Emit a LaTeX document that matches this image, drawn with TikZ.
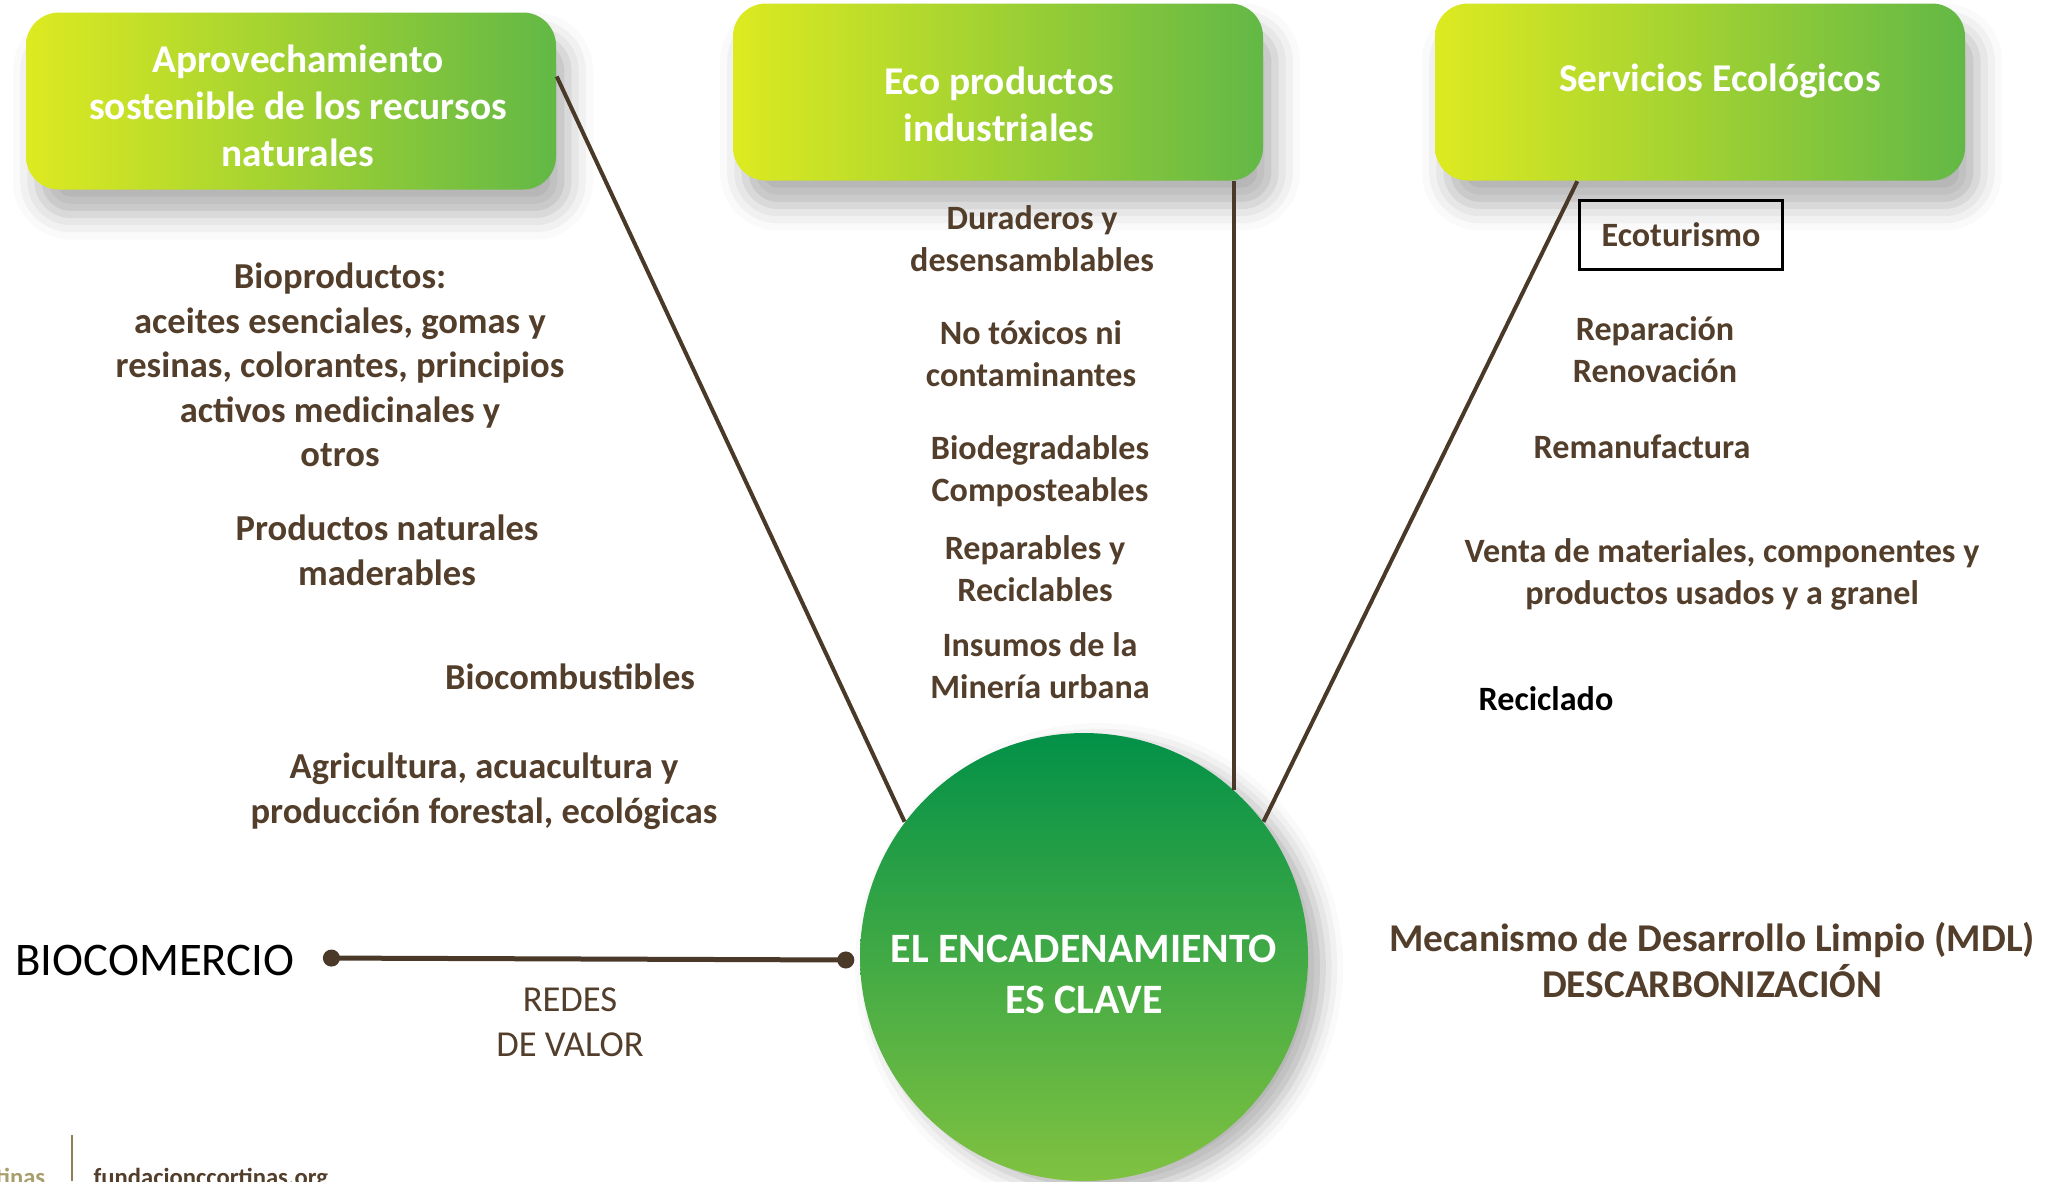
\documentclass[tikz,border=0pt]{standalone}
\usepackage{fontspec}
\setmainfont{Carlito}
\usepackage{xcolor}
\usetikzlibrary{positioning}
\usetikzlibrary{arrows.meta, shadows.blur}
\definecolor{lima}{RGB}{221,234,32}
\definecolor{verde}{RGB}{98,184,70}
\definecolor{oscuro}{RGB}{2,145,72}
\definecolor{claro}{RGB}{128,194,65}
\definecolor{cafe}{RGB}{82,62,43}
\definecolor{linea}{RGB}{74,57,41}
\definecolor{oliva}{RGB}{168,158,108}

\begin{document}
\begin{tikzpicture}[x=0.1mm, y=-0.1mm,
  box/.style = {rounded corners=3.3mm, minimum width=53mm, minimum height=17.7mm,
    left color=lima, right color=verde,
    blur shadow={shadow xshift=1.2mm, shadow yshift=-2.5mm, shadow blur radius=2.5mm, shadow opacity=30}},
  boxtext/.style = {text=white, align=center, font=\bfseries\fontsize{11.2}{13.4}\selectfont},
  hub/.style = {circle, minimum size=44.8mm, top color=oscuro, bottom color=claro,
    blur shadow={shadow xshift=1.5mm, shadow yshift=-1mm, shadow blur radius=2mm, shadow opacity=30}},
  item/.style = {align=center, text=cafe, font=\bfseries\fontsize{10.4}{12.7}\selectfont},
  small/.style = {align=center, text=cafe, font=\bfseries\fontsize{9.7}{12}\selectfont},
  link/.style = {draw=linea, line width=0.4mm}] 
\useasboundingbox (0,0) rectangle (2056,1181);
\clip (0,0) rectangle (2056,1181);

% cajas de arriba
\node[box] (rec) at (291,101) {}; 
\node[box] (eco) at (998,92) {}; 
\node[box] (serv) at (1700,92) {}; 
\node[boxtext] (recT) at (298,106) {Aprovechamiento\\sostenible de los recursos\\naturales}; 
\node[boxtext] (ecoT) at (999,104) {Eco productos\\industriales}; 
\node[boxtext] (servT) at (1720,81) {Servicios Ecológicos}; 

% circulo central
\node[hub] (clave) at (1084,957) {}; 
\node[white, align=center, font=\bfseries\fontsize{11.9}{14.5}\selectfont] (claveT) at (1084,974) {EL ENCADENAMIENTO\\ES CLAVE}; 

% columna izquierda
\node[item] (bioprod) at (340,365) {Bioproductos:\\aceites esenciales, gomas y\\resinas, colorantes, principios\\activos medicinales y\\otros}; 
\node[item] (mader) at (387,550) {Productos naturales\\maderables}; 
\node[item] (biocomb) at (570,677) {Biocombustibles}; 
\node[item] (agri) at (484,791) {Agricultura, acuacultura y\\producción forestal, ecológicas}; 

% columna del medio
\node[small] (durad) at (1032,239) {Duraderos y\\desensamblables}; 
\node[small] (notox) at (1031,354) {No tóxicos ni\\contaminantes}; 
\node[small] (biodeg) at (1040,471) {Biodegradables\\Composteables}; 
\node[small] (repar) at (1035,569) {Reparables y\\Reciclables}; 
\node[small] (insumos) at (1040,666) {Insumos de la\\Minería urbana}; 

% columna derecha
\node[small, draw=black, line width=0.25mm, minimum width=20.3mm, minimum height=6.9mm] (ecotur) at (1681,235) {Ecoturismo}; 
\node[small] (repren) at (1655,350) {Reparación\\Renovación}; 
\node[small] (reman) at (1642,447) {Remanufactura}; 
\node[small] (venta) at (1722,574) {Venta de materiales, componentes y\\productos usados y a granel}; 
\node[small, text=black] (recic) at (1546,699) {Reciclado}; 
\node[item, font=\bfseries\fontsize{11.2}{13}\selectfont] (mdl) at (1712,960) {Mecanismo de Desarrollo Limpio (MDL)\\DESCARBONIZACIÓN}; 

% abajo a la izquierda
\node[font=\fontsize{13.3}{15}\selectfont] (bio) at (155,960) {BIOCOMERCIO}; 
\node[align=center, text=cafe, font=\fontsize{10.4}{12.7}\selectfont] (redes) at (570,1022) {REDES\\DE VALOR}; 

% lineas
\draw[link] ([yshift=7pt]rec.east) -- (clave.143); 
\draw[link] (clave.48.4) -- (clave.48.4 |- eco.south); 
\draw[link] ([xshift=14.3mm]serv.south west) -- (clave.37); 
\draw[link, line width=0.5mm, {Circle[length=1.7mm]}-{Circle[length=1.7mm]}] ([xshift=1.6mm, yshift=0.2mm]bio.east) -- ([xshift=-0.5mm, yshift=-0.3mm]clave.west); 

% pie
\draw[draw=oliva!70!cafe, line width=0.2mm] (72,1135) -- (72,1181);
\node[anchor=base east, inner sep=0pt, text=oliva, font=\bfseries\fontsize{7}{8}\selectfont] (logo) at (46,1185) {tinas}; 
\node[anchor=base west, inner sep=0pt, text=cafe, font=\bfseries\fontsize{7}{8}\selectfont] (web) at (93,1185) {fundacionccortinas.org}; 
\end{tikzpicture}
\end{document}
